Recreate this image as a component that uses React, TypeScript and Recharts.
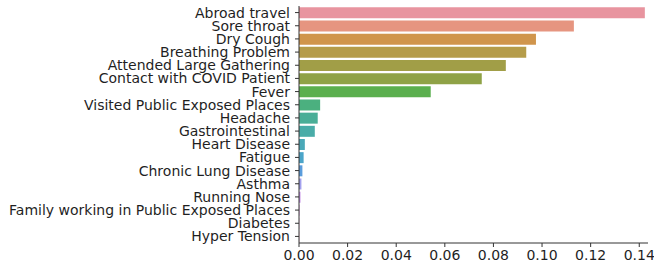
import { BarChart, Bar, XAxis, YAxis, Cell } from "recharts";

const features = [
  "Abroad travel",
  "Sore throat",
  "Dry Cough",
  "Breathing Problem",
  "Attended Large Gathering",
  "Contact with COVID Patient",
  "Fever",
  "Visited Public Exposed Places",
  "Headache",
  "Gastrointestinal ",
  "Heart Disease",
  "Fatigue ",
  "Chronic Lung Disease",
  "Asthma",
  "Running Nose",
  "Family working in Public Exposed Places",
  "Diabetes",
  "Hyper Tension",
];

const importance = [
  0.1423, 0.1131, 0.0975, 0.0935, 0.0851, 0.0752, 0.0542, 0.0087, 0.0077, 0.0065,
  0.0024, 0.0019, 0.0014, 0.001, 0.0006, 0.0002, 0.0001, 0.0001,
];

const colors = [
  "#e8949f", "#e69580", "#d0954c", "#b59c4a", "#a19e47", "#8fa246", "#5baf4e", "#4bb07f",
  "#4aae97", "#4aaca8", "#4aa9b8", "#4ba5c9", "#5a9ddd", "#a3a1ee", "#c48fe6", "#d68ad8",
  "#e489c0", "#e88eab",
];

const xTicks = [0, 0.02, 0.04, 0.06, 0.08, 0.1, 0.12, 0.14];

const data = features.map((name, i) => ({ name, value: importance[i] }));

const font = "DejaVu Sans, sans-serif";

export default function App() {
  return (
    <div style={{ position: "absolute", left: 0, top: 0, background: "#fff" }}>
      <BarChart
        width={654}
        height={266}
        data={data}
        layout="vertical"
        margin={{ top: 6, right: 6, left: 0, bottom: 0 }}
        barCategoryGap="10%"
      >
        <XAxis
          type="number"
          domain={[0, 0.1436]}
          ticks={xTicks}
          tickFormatter={(v: number) => v.toFixed(2)}
          allowDataOverflow
          height={23}
          tickSize={4}
          tickMargin={3}
          axisLine={{ stroke: "#333" }}
          tickLine={{ stroke: "#333" }}
          tick={{ fill: "#1f1f1f", fontSize: 14, fontFamily: font }}
        />
        <XAxis
          xAxisId="top"
          orientation="top"
          type="number"
          domain={[0, 0.1436]}
          height={0}
          tick={false}
          tickLine={false}
          axisLine={{ stroke: "#333" }}
        />
        <YAxis
          type="category"
          dataKey="name"
          width={299}
          interval={0}
          tickSize={4}
          tickMargin={5}
          axisLine={{ stroke: "#333" }}
          tickLine={{ stroke: "#333" }}
          tick={{ fill: "#1f1f1f", fontSize: 14, fontFamily: font }}
        />
        <Bar dataKey="value" isAnimationActive={false}>
          {data.map((d, i) => (
            <Cell key={d.name} fill={colors[i]} />
          ))}
        </Bar>
      </BarChart>
    </div>
  );
}
